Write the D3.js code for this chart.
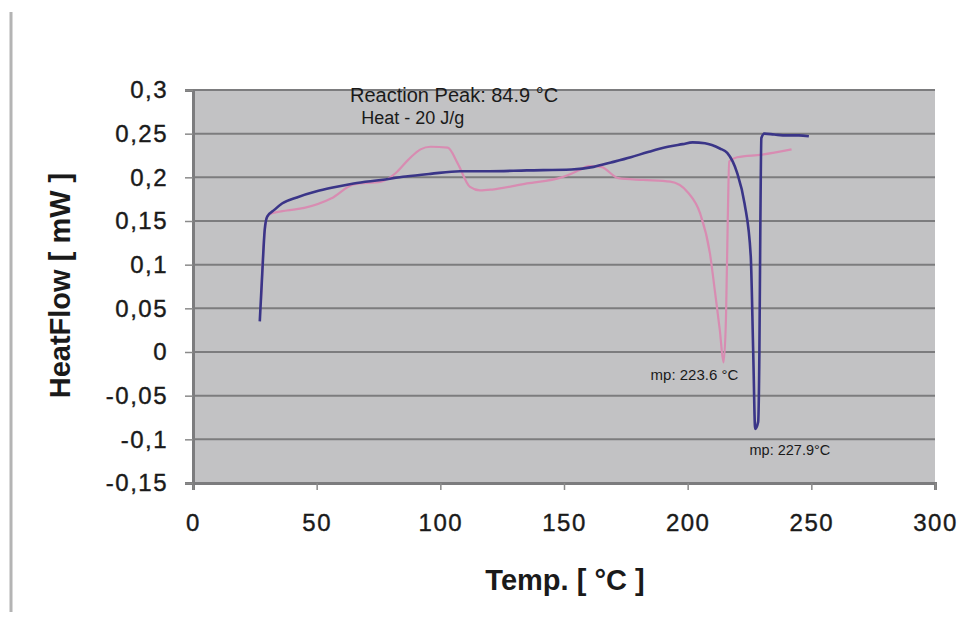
<!DOCTYPE html>
<html>
<head>
<meta charset="utf-8">
<script src="https://cdn.jsdelivr.net/npm/d3@7"></script>
<style>
  html, body { margin: 0; padding: 0; background: #fff; }
  svg { display: block; font-family: "Liberation Sans", Arial, sans-serif; }
</style>
</head>
<body>
<svg id="chart"></svg>
<script>
// x ticks and y ticks (the y labels use a decimal comma)
const xTicks = [0, 50, 100, 150, 200, 250, 300]
const yTicks = [-0.15, -0.1, -0.05, 0, 0.05, 0.1, 0.15, 0.2, 0.25, 0.3]
const yTickLabels = ['-0,15', '-0,1', '-0,05', '0', '0,05', '0,1', '0,15', '0,2', '0,25', '0,3']

// blue run (temperature, heat flow)
const blueTemp = [27, 28, 29, 30, 33, 36, 42, 50, 56, 65, 76, 86, 96, 108, 120, 135, 153, 162, 169, 177, 184, 192, 198, 202, 207, 213, 216, 220, 223, 225.5, 226.5, 227.3, 228.5, 229, 229.4, 229.8, 231, 235, 240, 245, 249]
const blueHeat = [0.035, 0.09, 0.14, 0.155, 0.163, 0.17, 0.177, 0.184, 0.188, 0.193, 0.197, 0.201, 0.204, 0.207, 0.207, 0.208, 0.209, 0.212, 0.217, 0.223, 0.229, 0.235, 0.238, 0.24, 0.239, 0.233, 0.228, 0.205, 0.17, 0.11, 0.0, -0.088, -0.08, 0.0, 0.15, 0.245, 0.25, 0.249, 0.248, 0.248, 0.247]

// pink run
const pinkTemp = [27.5, 28.5, 30, 32, 38, 45, 56, 65, 76, 82, 87, 92, 96, 103, 107, 112, 116, 121, 135, 149, 156, 160, 165, 172, 182, 193, 200, 205, 209, 211, 213, 214.5, 215.5, 216.2, 216.8, 220, 230, 242]
const pinkHeat = [0.06, 0.12, 0.155, 0.159, 0.162, 0.165, 0.176, 0.192, 0.195, 0.205, 0.22, 0.232, 0.235, 0.234, 0.216, 0.189, 0.185, 0.186, 0.193, 0.2, 0.208, 0.213, 0.212, 0.199, 0.197, 0.195, 0.183, 0.159, 0.113, 0.07, 0.025, -0.012, 0.04, 0.15, 0.218, 0.223, 0.226, 0.232]

const notes = [
    { text: 'Reaction Peak: 84.9 °C', x: 63.5, y: 0.292, size: 20 },
    { text: 'Heat - 20 J/g', x: 68, y: 0.266, size: 18 },
    { text: 'mp: 223.6 °C', x: 185, y: -0.028, size: 15 },
    { text: 'mp: 227.9°C', x: 225, y: -0.113, size: 14.5 },
]

const width = 962
const height = 621
const margin = { top: 90, right: 27, bottom: 138, left: 193 }

const svg = d3.select('#chart')
    .attr('width', width)
    .attr('height', height)

const x = d3.scaleLinear().domain([0, 300]).range([margin.left, width - margin.right])
const y = d3.scaleLinear().domain([-0.15, 0.3]).range([height - margin.bottom, margin.top])

// outer frame line on the left
svg.append('line')
    .attr('x1', 11).attr('x2', 11)
    .attr('y1', 12).attr('y2', 612)
    .attr('stroke', '#b4b4b4')
    .attr('stroke-width', 3)

// plot area
svg.append('rect')
    .attr('x', x(0)).attr('y', y(0.3))
    .attr('width', x(300) - x(0))
    .attr('height', y(-0.15) - y(0.3))
    .attr('fill', '#c2c2c4')

// grid lines
svg.append('g')
    .selectAll('line')
    .data(yTicks)
    .join('line')
    .attr('x1', x(0)).attr('x2', x(300))
    .attr('y1', d => y(d)).attr('y2', d => y(d))
    .attr('stroke', '#7c7c7e')
    .attr('stroke-width', 2)

const xAxis = d3.axisBottom(x).tickValues(xTicks).tickSize(7).tickPadding(24)
const yAxis = d3.axisLeft(y).tickValues(yTicks).tickSize(8).tickPadding(17)
    .tickFormat((d, i) => yTickLabels[i])

const gx = svg.append('g')
    .attr('transform', `translate(0,${y(-0.15)})`)
    .call(xAxis)
const gy = svg.append('g')
    .attr('transform', `translate(${x(0)},0)`)
    .call(yAxis)

for (const g of [gx, gy]) {
    g.select('.domain').attr('stroke', '#7c7c7e').attr('stroke-width', 3)
    g.selectAll('.tick line').attr('stroke', '#8a8a8a').attr('stroke-width', 1.5)
    g.selectAll('.tick text')
        .attr('fill', '#1a1a1a')
        .attr('stroke', '#1a1a1a')
        .attr('stroke-width', 0.4)
        .style('font-size', '24px')
        .style('letter-spacing', '1.5px')
}

// axis titles
svg.append('text')
    .attr('x', 565).attr('y', 590)
    .attr('text-anchor', 'middle')
    .attr('fill', '#1a1a1a')
    .style('font-size', '29px')
    .style('font-weight', 'bold')
    .text('Temp. [ °C ]')

svg.append('text')
    .attr('transform', `translate(70,${(y(0.3) + y(-0.15)) / 2 - 1}) rotate(-90)`)
    .attr('text-anchor', 'middle')
    .attr('fill', '#1a1a1a')
    .style('font-size', '29px')
    .style('font-weight', 'bold')
    .text('HeatFlow [ mW ]')

// curves
const line = d3.line()
    .x(d => x(d[0]))
    .y(d => y(d[1]))
    .curve(d3.curveMonotoneX)

const pinkPts = pinkTemp.map((t, i) => [t, pinkHeat[i]])
const bluePts = blueTemp.map((t, i) => [t, blueHeat[i]])

svg.append('path')
    .datum(pinkPts)
    .attr('d', line)
    .attr('fill', 'none')
    .attr('stroke', '#d88cb2')
    .attr('stroke-width', 2.2)

svg.append('path')
    .datum(bluePts)
    .attr('d', line)
    .attr('fill', 'none')
    .attr('stroke', '#3a3588')
    .attr('stroke-width', 2.6)

// annotations
svg.append('g')
    .selectAll('text')
    .data(notes)
    .join('text')
    .attr('x', d => x(d.x))
    .attr('y', d => y(d.y))
    .attr('dominant-baseline', 'middle')
    .attr('fill', '#1a1a1a')
    .style('font-size', d => d.size + 'px')
    .text(d => d.text)
</script>
</body>
</html>
